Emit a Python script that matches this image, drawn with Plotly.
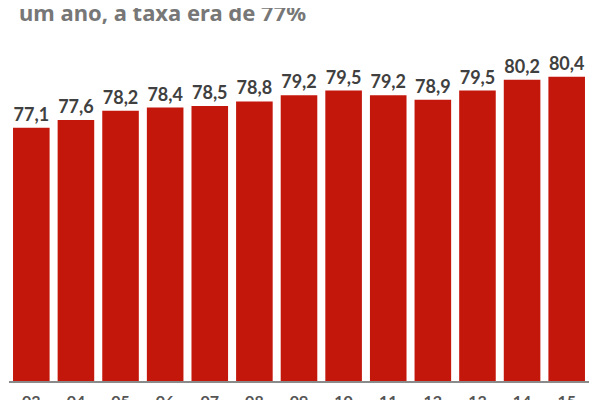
import plotly.graph_objects as go

categories = ["03", "04", "05", "06", "07", "08", "09", "10", "11", "12", "13", "14", "15"]
values = [77.1, 77.6, 78.2, 78.4, 78.5, 78.8, 79.2, 79.5, 79.2, 78.9, 79.5, 80.2, 80.4]
title_text = "um ano, a taxa era de 77%"

fig = go.Figure(go.Bar(
    x=categories,
    y=values,
    marker=dict(color="#C4170C", line=dict(width=0)),
    texttemplate="%{y:.1f}",
    textposition="outside",
    cliponaxis=False,
    textfont=dict(family="Lato", size=18, color="#404040", weight="bold"),
))

fig.update_layout(
    width=600, height=400,
    margin=dict(l=1, r=19, t=52, b=27, autoexpand=False),
    paper_bgcolor="white", plot_bgcolor="white",
    separators=",.",
    bargap=0.18,
    showlegend=False,
    xaxis=dict(
        showline=True, linecolor="#8a8a8a", linewidth=2,
        showgrid=False, ticks="", automargin=False, ticklabelstandoff=5,
        tickfont=dict(family="Lato", size=16, color="#555555", weight="bold"),
    ),
    yaxis=dict(
        range=[60.7, 81.48], visible=False, showgrid=False, automargin=False,
    ),
    annotations=[dict(
        text=title_text, xref="paper", yref="paper",
        x=(9 - 1) / 580, y=(373 - 4) / 321, xanchor="left", yanchor="middle",
        showarrow=False,
        font=dict(family="Noto Sans", size=22, color="#777777", weight="bold"),
    )],
)

fig.write_html("out.html")
